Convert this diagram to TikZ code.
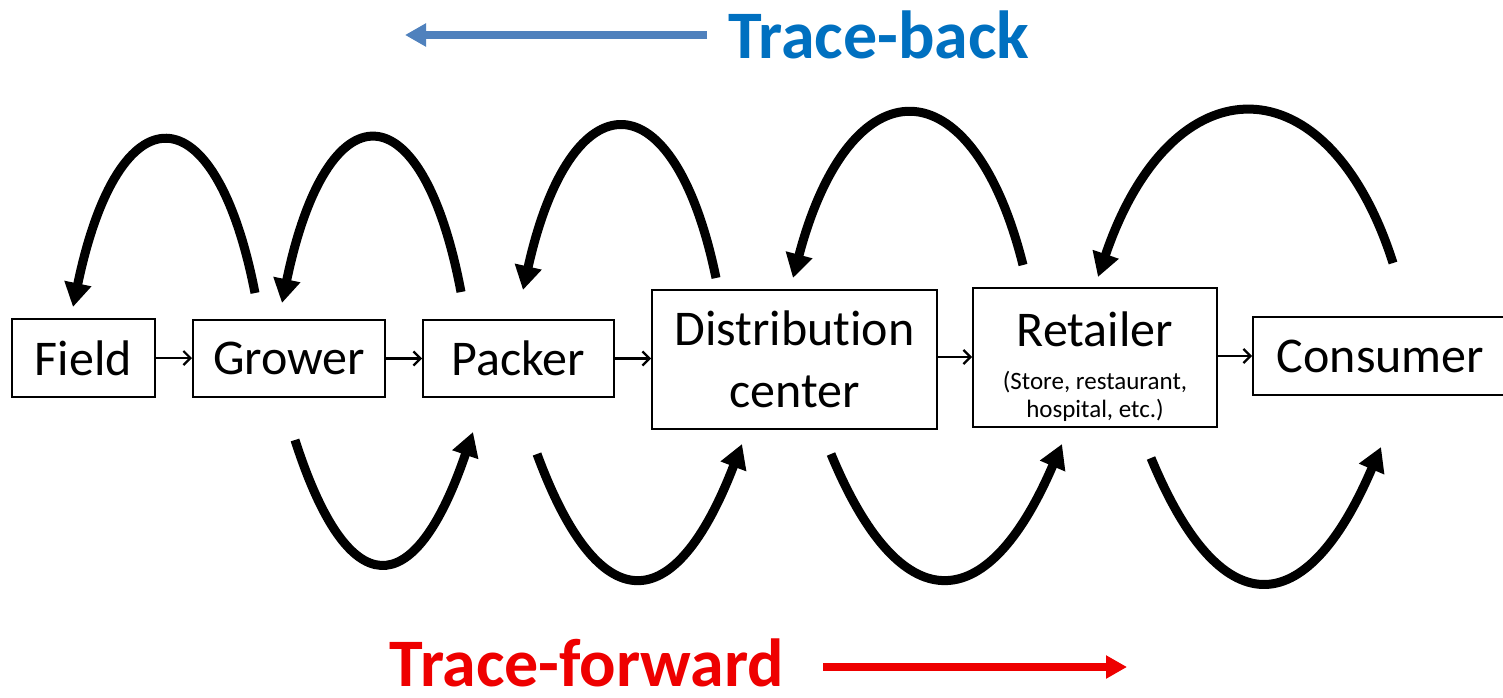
\documentclass[tikz,border=0pt]{standalone}
\usepackage{fontspec}
\setmainfont{Carlito}[Ligatures=NoCommon]
\usetikzlibrary{arrows.meta}
\definecolor{tbtext}{RGB}{0,112,192}
\definecolor{tbarrow}{RGB}{79,129,189}
\definecolor{tftext}{RGB}{238,0,0}
\begin{document}
\begin{tikzpicture}[x=1pt,y=-1pt,
  box/.style={draw,line width=2pt,inner sep=0pt,font=\fontsize{50}{62}\selectfont,align=center},
  plain/.style={inner sep=0pt,align=center},
  flow/.style={line width=2.2pt,-{Straight Barb[length=7pt,width=14pt]}},
  loop/.style={line width=9pt,-{Triangle[length=24pt,width=26pt]}},
  title/.style={inner sep=0pt,font=\fontsize{68}{80}\selectfont\bfseries},
]
\clip (0,0) rectangle (1503,698);
\fill[white] (0,0) rectangle (1503,698);

% boxes
\node[box,minimum width=143pt,minimum height=78pt] (field) at (83.5,358) {Field};
\node[box,minimum width=192pt,minimum height=77pt] (grower) at (289,358.5) {Grower};
\node[box,minimum width=191pt,minimum height=77pt] (packer) at (518.5,358.5) {Packer};
\node[box,minimum width=285pt,minimum height=139pt] (dist) at (794.5,359.5) {Distribution\\center};
\node[box,minimum width=244pt,minimum height=139pt] (retail) at (1095,357.5) {};
\node[plain,font=\fontsize{50}{60}\selectfont] (retailA) at (1095,329) {Retailer};
\node[plain,font=\fontsize{25}{28}\selectfont] (retailB) at (1095,396) {(Store, restaurant,\\hospital, etc.)};
\node[box,minimum width=255pt,minimum height=78pt] (cons) at (1380.5,356) {Consumer};

% flow arrows
\draw[flow] (field.east) -- (field.east -| grower.west);
\draw[flow] (grower.east) -- (grower.east -| packer.west);
\draw[flow] (packer.east) -- (packer.east -| dist.west);
\draw[flow] (dist.east |- 0,357) coordinate (dr) -- (retail.west |- dr);
\draw[flow] (retail.east |- 0,356) coordinate (rc) -- (cons.west |- rc);

% trace-back loops
\coordinate (b1s) at (255,293); \coordinate (b1e) at (73,307);
\coordinate (b2s) at (461,292); \coordinate (b2e) at (282,303);
\coordinate (b3s) at (716,278); \coordinate (b3e) at (523,290);
\coordinate (b4s) at (1023,265); \coordinate (b4e) at (793,278);
\coordinate (b5s) at (1393,263); \coordinate (b5e) at (1098,277);
\draw[loop] (b1s) .. controls (215,88) and (118.5,88) .. (b1e);
\draw[loop] (b2s) .. controls (422,86) and (327,86) .. (b2e);
\draw[loop] (b3s) .. controls (674,75) and (571,75) .. (b3e);
\draw[loop] (b4s) .. controls (972,61.5) and (850,61.5) .. (b4e);
\draw[loop] (b5s) .. controls (1328,59) and (1172,59) .. (b5e);

% trace-forward loops
\coordinate (f1s) at (295,440); \coordinate (f1e) at (473,432);
\coordinate (f2s) at (537,454); \coordinate (f2e) at (742,444);
\coordinate (f3s) at (831,454); \coordinate (f3e) at (1062,444);
\coordinate (f4s) at (1151,458); \coordinate (f4e) at (1381,447);
\draw[loop] (f1s) .. controls (348,605) and (414,605) .. (f1e);
\draw[loop] (f2s) .. controls (598.5,621) and (674,621) .. (f2e);
\draw[loop] (f3s) .. controls (900,621) and (986,621) .. (f3e);
\draw[loop] (f4s) .. controls (1220,625) and (1305,625) .. (f4e);

% titles
\node[title,text=tbtext] (tb) at (879,35) {Trace-back};
\coordinate (tbA) at (707,35); \coordinate (tbB) at (405,35);
\draw[tbarrow,line width=8pt,-{Triangle[length=21pt,width=22pt]}] (tbA) -- (tbB);

\node[title,text=tftext,anchor=base] (tf) at (587,686) {Trace-forward};
\coordinate (tfA) at (823,667); \coordinate (tfB) at (1127,667);
\draw[tftext,line width=8pt,-{Triangle[length=21pt,width=22pt]}] (tfA) -- (tfB);
\end{tikzpicture}
\end{document}
